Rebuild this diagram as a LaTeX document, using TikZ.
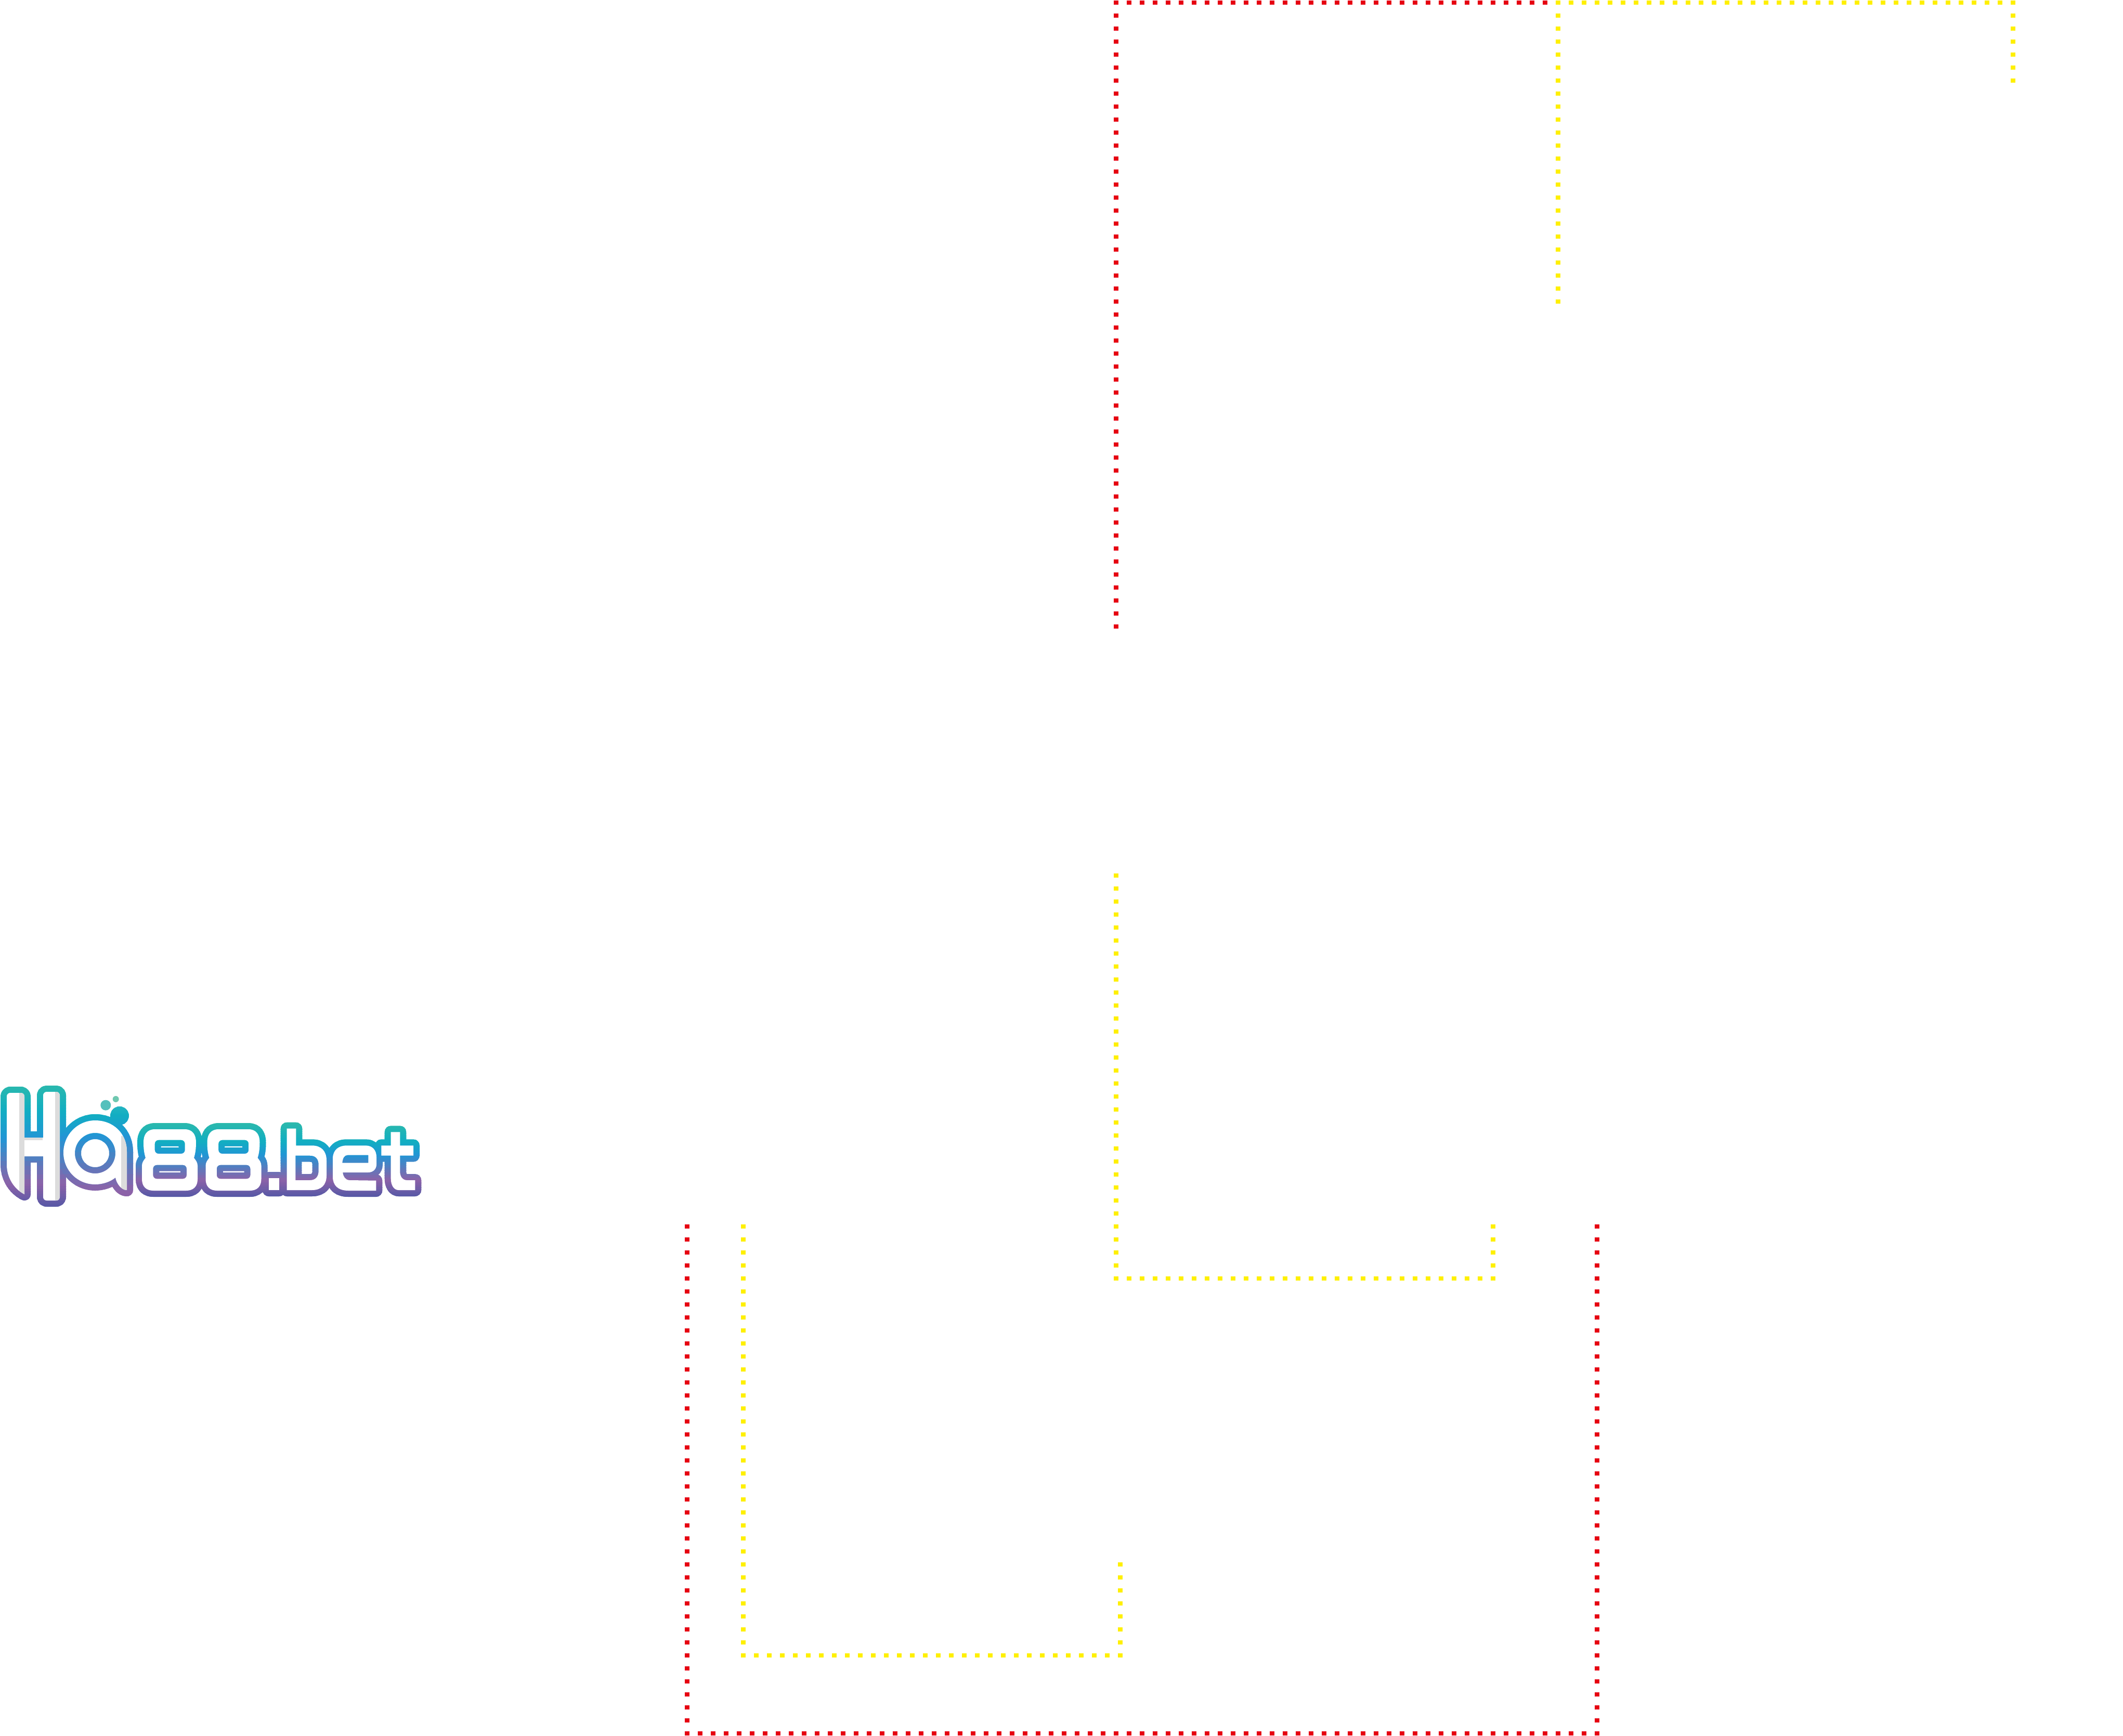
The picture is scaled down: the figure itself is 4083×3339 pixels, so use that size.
\documentclass[tikz,border=0pt]{standalone}
\definecolor{dotred}{HTML}{E60012}
\definecolor{dotyellow}{HTML}{FFF000}
\definecolor{gteal}{HTML}{2FBBA9}
\definecolor{gtealb}{HTML}{2DB8C0}
\definecolor{gcyan}{HTML}{12ADC2}
\definecolor{gblue}{HTML}{2196D5}
\definecolor{gpurple}{HTML}{8C62A8}
\definecolor{gindigo}{HTML}{5358A6}
\definecolor{logogrey}{HTML}{DCDCDC}
\definecolor{bubmid}{HTML}{55C0BC}
\definecolor{bubsmall}{HTML}{6FC8B0}
\tikzset{
  dotline/.style={line width=2.088pt,dash pattern=on 2.088pt off 3.912pt,line cap=butt,line join=miter},
  reddots/.style={dotline,draw=dotred},
  yellowdots/.style={dotline,draw=dotyellow},
  logoline/.style={line width=5.76pt,line join=round,line cap=round}
}
% white letter shapes of the logo, px coordinates
\newcommand\logoH{(13,2240) [rounded corners=1.6pt] -- (13,2102) -- (47,2102) [sharp corners] -- (47,2188) -- (83,2188) [rounded corners=1.6pt] -- (83,2100) -- (115,2100) -- (115,2309) -- (83,2309) [sharp corners] -- (83,2224) -- (47,2224) -- (47,2297) .. controls (27,2287) and (13,2265) .. (13,2240) -- cycle}
\newcommand\logoAouter{(244,2215) .. controls (244,2180) and (218,2155) .. (183,2155) .. controls (149,2155) and (122,2183) .. (122,2217) .. controls (122,2251) and (149,2278) .. (183,2278) .. controls (198,2278) and (212,2273) .. (222,2265) .. controls (224,2276) and (233,2289) .. (244,2289) -- cycle}
\newcommand\logoAhole{(183,2218) circle [radius=39]}
\newcommand\logoBub{(230,2146) circle [radius=6]}
\newcommand\logoEa{(280,2227) .. controls (277,2218) and (276,2208) .. (276,2197) .. controls (276,2182) and (283,2172) .. (298,2172) -- (355,2172) .. controls (370,2172) and (377,2182) .. (377,2197) .. controls (377,2208) and (376,2218) .. (373,2227) .. controls (377,2232) and (380,2236) .. (380,2242) -- (380,2268) .. controls (380,2282) and (372,2290) .. (358,2290) -- (295,2290) .. controls (281,2290) and (273,2282) .. (273,2268) -- (273,2242) .. controls (273,2236) and (276,2232) .. (280,2227) -- cycle}
\newcommand\logoEaholes{[rounded corners=1.7pt] (297.7,2192.7) rectangle (355.7,2219) (294.3,2240.7) rectangle (359,2267.3) [sharp corners]}
\newcommand\logoEb{(402.5,2227) .. controls (399.5,2218) and (398.5,2208) .. (398.5,2197) .. controls (398.5,2182) and (405.5,2172) .. (420.5,2172) -- (477.5,2172) .. controls (492.5,2172) and (499.5,2182) .. (499.5,2197) .. controls (499.5,2208) and (498.5,2218) .. (495.5,2227) .. controls (499.5,2232) and (502.5,2236) .. (502.5,2242) -- (502.5,2268) .. controls (502.5,2282) and (494.5,2290) .. (480.5,2290) -- (417.5,2290) .. controls (403.5,2290) and (395.5,2282) .. (395.5,2268) -- (395.5,2242) .. controls (395.5,2236) and (398.5,2232) .. (402.5,2227) -- cycle}
\newcommand\logoEbholes{[rounded corners=1.7pt] (420.2,2192.7) rectangle (478.2,2219) (416.8,2240.7) rectangle (481.5,2267.3) [sharp corners]}
\newcommand\logoDot{(516.7,2266) rectangle (537,2289)}
\newcommand\logoB{(551.7,2170.7) -- (569.3,2170.7) -- (569.3,2203.3) -- (600,2203.3) .. controls (618,2203.3) and (628,2214) .. (628,2232) -- (628,2261) .. controls (628,2279) and (618,2289) .. (600,2289) -- (551.7,2289) -- cycle}
\newcommand\logoBhole{(568.3,2222.7) -- (596,2222.7) .. controls (607,2222.7) and (612.7,2229) .. (612.7,2240) -- (612.7,2252) .. controls (612.7,2263) and (607,2270) .. (596,2270) -- (568.3,2270) -- cycle}
\newcommand\logoEe{(666.7,2203.3) -- (703.3,2203.3) .. controls (716,2203.3) and (724,2212) .. (724,2225) -- (724,2240) .. controls (724,2249) and (717,2255) .. (708.3,2255) -- (659.3,2255) .. controls (660,2263) and (664,2269.3) .. (672,2270) -- (723.3,2270.7) -- (723.3,2290) -- (670,2290) .. controls (650,2290) and (640,2280) .. (640,2263.3) -- (640,2228.3) .. controls (640,2212) and (651,2203.3) .. (666.7,2203.3) -- cycle}
\newcommand\logoEehole{(658.3,2236.7) -- (708.3,2236.7) -- (708.3,2221.7) -- (668.3,2221.7) .. controls (662,2221.7) and (659,2228) .. (658.3,2236.7) -- cycle}
\newcommand\logoT{(751.7,2177.3) -- (769.3,2177.3) -- (769.3,2203.3) -- (795,2203.3) -- (795,2222.7) -- (769.3,2222.7) -- (769.3,2253.3) .. controls (769.3,2263) and (774,2270) .. (783.3,2270) -- (798.3,2270) -- (798.3,2289) -- (766.7,2289) .. controls (757,2289) and (751.7,2279) .. (751.7,2266.7) -- (751.7,2222.7) -- (733.3,2222.7) -- (733.3,2203.3) -- (751.7,2203.3) -- cycle}
\newcommand\logoRest{\logoEa \logoEaholes \logoEb \logoEbholes \logoDot \logoB \logoBhole \logoEe \logoEehole \logoT}
% one gradient segment: y0, y1, colour at y0, colour at y1, path
\newcommand\gradband[5]{%
  \pgfmathsetmacro\gstep{(#2-(#1))/10}%
  \foreach \k in {0,...,9}{%
    \pgfmathsetmacro\ya{#1+\k*\gstep}%
    \pgfmathsetmacro\yb{\ya+\gstep+0.6}%
    \pgfmathsetmacro\mixp{95-\k*10}%
    \begin{scope}
      \clip (-30,\ya) rectangle (900,\yb);
      \draw[logoline,draw=#3!\mixp!#4] #5;
    \end{scope}
  }%
}
\begin{document}
\begin{tikzpicture}[x=0.24pt,y=-0.24pt]
\useasboundingbox (0,0) rectangle (4083,3339);
\fill[white] (0,0) rectangle (4083,3339);
% dotted frames
\draw[reddots] (2146.3,1209.35) -- (2146.3,5) -- (2975.65,5);
\draw[yellowdots] (3871.3,159.35) -- (3871.3,5) -- (2991.95,5);
\draw[yellowdots] (2996.3,0.65) -- (2996.3,584.35);
\draw[yellowdots] (2146.3,1679.65) -- (2146.3,2459) -- (2871.3,2459) -- (2871.3,2354.65);
\draw[yellowdots] (1429.5,2354.65) -- (1429.5,3184) -- (2154.5,3184) -- (2154.5,3004.65);
\draw[reddots] (1321.3,2354.65) -- (1321.3,3334) -- (3071.3,3334) -- (3071.3,2354.65);
% logo: gradient outlines
\gradband{2078}{2137}{gteal}{gcyan}{\logoH}
\gradband{2137}{2190}{gcyan}{gblue}{\logoH}
\gradband{2190}{2277}{gblue}{gpurple}{\logoH}
\gradband{2277}{2325}{gpurple}{gindigo}{\logoH}
\gradband{2120}{2145}{gtealb}{gcyan}{\logoAouter \logoAhole \logoBub}
\gradband{2145}{2185}{gcyan}{gblue}{\logoAouter \logoAhole \logoBub}
\gradband{2185}{2290}{gblue}{gpurple}{\logoAouter \logoAhole \logoBub}
\gradband{2290}{2305}{gpurple}{gpurple}{\logoAouter \logoAhole \logoBub}
\gradband{2155}{2197}{gteal}{gcyan}{\logoRest}
\gradband{2197}{2222}{gcyan}{gblue}{\logoRest}
\gradband{2222}{2270}{gblue}{gpurple}{\logoRest}
\gradband{2270}{2304}{gpurple}{gindigo}{\logoRest}
% logo: white letter bodies
\fill[white] \logoH;
\begin{scope}
  \clip \logoH;
  \fill[logogrey] (37,2095) rectangle (47,2300);
  \fill[logogrey] (106,2095) rectangle (115,2312);
  \fill[logogrey] (47,2188) rectangle (82,2193);
\end{scope}
\fill[white,even odd rule] \logoAouter \logoAhole;
\begin{scope}
  \clip \logoAouter;
  \fill[logogrey] (233,2185) rectangle (244,2292);
\end{scope}
\fill[white,even odd rule] \logoEa \logoEaholes;
\fill[white,even odd rule] \logoEb \logoEbholes;
\fill[white] \logoDot;
\fill[white,even odd rule] \logoB \logoBhole;
\fill[white,even odd rule] \logoEe \logoEehole;
\fill[white] \logoT;
% bubbles
\fill[bubmid] (203.3,2125.7) circle [radius=10];
\fill[bubsmall] (222.7,2114) circle [radius=6];
\end{tikzpicture}
\end{document}
